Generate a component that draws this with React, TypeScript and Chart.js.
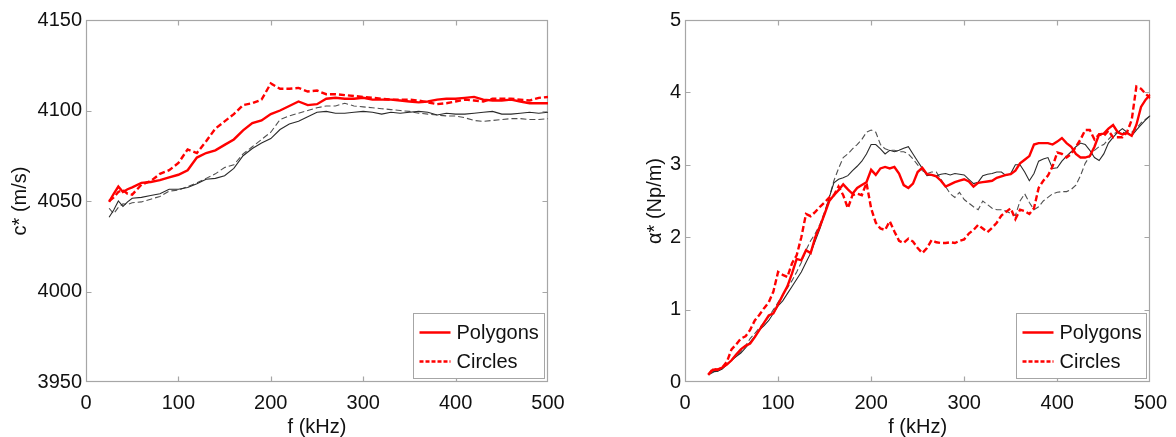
import React, { useEffect, useRef } from 'react';
import { Chart, registerables } from 'chart.js';

Chart.register(...registerables);

const FONT = '"Liberation Sans", Arial, Helvetica, sans-serif';

// ---------- Left panel: c* (m/s) ----------
const freqL = [25, 30, 35, 40, 45, 50, 60, 70, 80, 90, 100, 110, 120, 130, 140, 150, 160, 170, 180, 190, 200,
  210, 220, 230, 240, 250, 260, 270, 280, 290, 300, 310, 320, 330, 340, 350, 360, 370, 380, 390, 400,
  410, 420, 430, 440, 450, 460, 470, 480, 490, 500];

const polygonsC = [4049.5, 4054, 4058, 4055, 4056.5, 4057.5, 4060, 4060.5, 4061.5, 4063, 4064.5, 4067, 4074, 4076.5, 4078,
  4081, 4084, 4089, 4093, 4094.5, 4098, 4100, 4102.5, 4105, 4103, 4103.5, 4106.5, 4107, 4106.5, 4106.5, 4107,
  4106, 4106, 4106, 4105.5, 4105, 4104.5, 4105, 4106, 4106.5, 4106.5, 4107, 4107.5, 4106, 4105.5, 4105.5, 4106,
  4105, 4104, 4104, 4104];

const circlesC = [4050, 4052, 4055, 4056, 4054, 4053.5, 4059, 4061, 4065, 4067, 4071, 4078.5, 4076.5, 4083, 4090,
  4094, 4098, 4103, 4104, 4106, 4115, 4112, 4112, 4112.5, 4110.5, 4111, 4109, 4109, 4108.5, 4108, 4107.5,
  4107, 4106.5, 4106, 4106, 4106, 4105.5, 4104.5, 4103.5, 4104, 4105, 4106, 4105.5, 4105, 4106.5, 4106.5, 4106.5,
  4106, 4105.5, 4107, 4107.5];

const refSolidC = [4041, 4045, 4050, 4047, 4049.5, 4051.5, 4052, 4053, 4054, 4056.5, 4056.5, 4057.5, 4059.5, 4062, 4062.5,
  4064, 4068, 4075, 4079, 4082, 4084.5, 4089.5, 4092.5, 4094, 4096.5, 4099, 4099.5, 4098.5, 4098.5, 4099, 4099.5,
  4099, 4098, 4099, 4098.5, 4099, 4099.5, 4099, 4097.5, 4098.5, 4098, 4098, 4098.5, 4099, 4099.5, 4098, 4098,
  4098.5, 4099, 4098.5, 4099];

const refDashC = [4046, 4043, 4046.5, 4048.5, 4048, 4049, 4049.5, 4051, 4052.5, 4055.5, 4056, 4058, 4060, 4062.5, 4065,
  4068.5, 4070, 4076, 4080, 4084, 4088, 4095, 4097, 4098.5, 4100, 4101.5, 4102.5, 4102.5, 4104, 4102.5, 4102,
  4101.5, 4101, 4100.5, 4100, 4099.5, 4098.5, 4098, 4097.5, 4097, 4097, 4096, 4094.5, 4094, 4094.5, 4095, 4095.5,
  4095.5, 4095, 4095, 4095.5];

// ---------- Right panel: alpha* (Np/m) ----------
const freqR = [25, 30, 35, 40, 45, 50, 55, 60, 65, 70, 75, 80, 85, 90, 95, 100, 105, 110, 115, 120, 125, 130, 135, 140,
  145, 150, 155, 160, 165, 170, 175, 180, 185, 190, 195, 200, 205, 210, 215, 220, 225, 230, 235, 240, 245, 250,
  255, 260, 265, 270, 275, 280, 285, 290, 295, 300, 305, 310, 315, 320, 325, 330, 335, 340, 345, 350, 355, 360,
  365, 370, 375, 380, 385, 390, 395, 400, 405, 410, 415, 420, 425, 430, 435, 440, 445, 450, 455, 460, 465, 470,
  475, 480, 485, 490, 495, 500];

const polygonsA = [0.10, 0.17, 0.17, 0.20, 0.24, 0.30, 0.38, 0.45, 0.50, 0.53, 0.62, 0.72, 0.82, 0.92, 0.95, 1.07,
  1.20, 1.32, 1.50, 1.70, 1.68, 1.82, 1.78, 2.00, 2.15, 2.32, 2.50, 2.58, 2.65, 2.73, 2.66, 2.60, 2.68, 2.72, 2.76,
  2.93, 2.86, 2.95, 2.97, 2.95, 2.97, 2.88, 2.72, 2.68, 2.74, 2.90, 2.96, 2.87, 2.86, 2.84, 2.78, 2.70, 2.73, 2.76,
  2.78, 2.80, 2.77, 2.70, 2.75, 2.76, 2.77, 2.78, 2.82, 2.84, 2.86, 2.87, 2.92, 3.02, 3.07, 3.12, 3.28, 3.30, 3.30,
  3.30, 3.28, 3.32, 3.37, 3.30, 3.25, 3.15, 3.10, 3.10, 3.12, 3.25, 3.42, 3.43, 3.50, 3.55, 3.45, 3.42, 3.44, 3.40,
  3.55, 3.80, 3.90, 3.97];

const circlesA = [0.10, 0.18, 0.17, 0.20, 0.28, 0.45, 0.52, 0.60, 0.63, 0.72, 0.85, 0.93, 1.02, 1.10, 1.25, 1.52,
  1.48, 1.45, 1.64, 1.75, 2.00, 2.32, 2.29, 2.35, 2.42, 2.48, 2.55, 2.58, 2.70, 2.58, 2.40, 2.58, 2.60, 2.58, 2.75,
  2.40, 2.20, 2.12, 2.10, 2.22, 2.08, 1.95, 1.92, 1.98, 1.94, 1.85, 1.78, 1.85, 1.96, 1.93, 1.92, 1.92, 1.93, 1.92,
  1.95, 1.97, 2.05, 2.10, 2.17, 2.12, 2.07, 2.13, 2.20, 2.30, 2.35, 2.40, 2.25, 2.38, 2.36, 2.32, 2.40, 2.68, 2.78,
  2.85, 2.98, 3.17, 3.15, 3.10, 3.15, 3.25, 3.35, 3.48, 3.48, 3.35, 3.42, 3.40, 3.47, 3.38, 3.38, 3.38, 3.45, 3.62,
  4.08, 4.05, 3.98, 3.92];

const refSolidA = [0.10, 0.14, 0.15, 0.18, 0.24, 0.30, 0.35, 0.40, 0.47, 0.55, 0.63, 0.72, 0.78, 0.85, 0.95, 1.05,
  1.12, 1.22, 1.32, 1.42, 1.52, 1.65, 1.78, 1.95, 2.12, 2.32, 2.55, 2.75, 2.80, 2.82, 2.85, 2.92, 2.98, 3.05, 3.15,
  3.28, 3.28, 3.22, 3.15, 3.20, 3.18, 3.20, 3.23, 3.25, 3.15, 3.05, 2.95, 2.85, 2.86, 2.85, 2.87, 2.88, 2.86, 2.88,
  2.87, 2.86, 2.80, 2.74, 2.76, 2.85, 2.87, 2.88, 2.90, 2.90, 2.85, 2.88, 3.00, 3.00, 2.90, 2.78, 2.88, 3.05, 3.08,
  3.10, 2.95, 2.96, 3.05, 3.12, 3.18, 3.25, 3.30, 3.28, 3.20, 3.10, 3.06, 3.15, 3.30, 3.38, 3.45, 3.50, 3.45, 3.40,
  3.48, 3.55, 3.62, 3.68];

const refDashA = [0.10, 0.13, 0.15, 0.19, 0.25, 0.30, 0.36, 0.42, 0.50, 0.60, 0.67, 0.75, 0.82, 0.90, 1.00, 1.10,
  1.20, 1.30, 1.40, 1.52, 1.65, 1.82, 1.95, 2.05, 2.18, 2.35, 2.55, 2.78, 2.95, 3.10, 3.15, 3.22, 3.28, 3.35, 3.45,
  3.48, 3.45, 3.28, 3.22, 3.20, 3.20, 3.18, 3.18, 3.15, 3.08, 3.00, 2.92, 2.88, 2.90, 2.90, 2.80, 2.70, 2.60, 2.55,
  2.62, 2.52, 2.47, 2.42, 2.38, 2.50, 2.45, 2.40, 2.38, 2.38, 2.36, 2.33, 2.30, 2.50, 2.60, 2.48, 2.38, 2.42, 2.50,
  2.55, 2.60, 2.62, 2.63, 2.63, 2.66, 2.72, 2.85, 3.02, 3.12, 3.20, 3.25, 3.28, 3.35, 3.42, 3.46, 3.45, 3.43, 3.45,
  3.50, 3.58, 3.63, 3.68];

const xTicks = [0, 100, 200, 300, 400, 500];
const legendLabels = ['Polygons', 'Circles'];

const RED = '#ff0000';
const FRAME = '#a6a6a6';
const TEXT = '#111111';

const pts = (xs: number[], ys: number[]) => xs.map((x, i) => ({ x, y: ys[i] }));

const framePlugin = {
  id: 'frameTicks',
  beforeDatasetsDraw(chart: any) {
    const { ctx, chartArea: a, scales } = chart;
    const L = Math.round(a.left) + 0.5;
    const R = Math.round(a.right) - 0.5;
    const T = Math.round(a.top) + 0.5;
    const B = Math.round(a.bottom) - 0.5;
    ctx.save();
    ctx.strokeStyle = FRAME;
    ctx.lineWidth = 1.2;
    ctx.setLineDash([]);
    ctx.strokeRect(L, T, R - L, B - T);
    const len = 5;
    ctx.beginPath();
    scales.x.ticks.forEach((t: any) => {
      const px = Math.round(scales.x.getPixelForValue(t.value)) + 0.5;
      if (px <= L + 1 || px >= R - 1) return;
      ctx.moveTo(px, B); ctx.lineTo(px, B - len);
      ctx.moveTo(px, T); ctx.lineTo(px, T + len);
    });
    scales.y.ticks.forEach((t: any) => {
      const py = Math.round(scales.y.getPixelForValue(t.value)) + 0.5;
      if (py <= T + 1 || py >= B - 1) return;
      ctx.moveTo(L, py); ctx.lineTo(L + len, py);
      ctx.moveTo(R, py); ctx.lineTo(R - len, py);
    });
    ctx.stroke();
    ctx.restore();
  },
};

const legendPlugin = {
  id: 'boxLegend',
  afterDatasetsDraw(chart: any, _args: any, opts: any) {
    const { ctx, chartArea: a } = chart;
    const items = chart.data.datasets.filter((d: any) => legendLabels.includes(d.label));
    const w = opts.width;
    const h = 65;
    const x0 = Math.round(a.right - 4 - w) + 0.5;
    const y0 = Math.round(a.bottom - 4 - h) + 0.5;
    ctx.save();
    ctx.fillStyle = '#ffffff';
    ctx.fillRect(x0, y0, w, h);
    ctx.strokeStyle = FRAME;
    ctx.lineWidth = 1;
    ctx.setLineDash([]);
    ctx.strokeRect(x0, y0, w, h);
    items.forEach((d: any, i: number) => {
      const y = y0 + 19 + i * 29;
      ctx.strokeStyle = d.borderColor;
      ctx.lineWidth = 2.5;
      ctx.setLineDash(d.borderDash && d.borderDash.length ? [4, 2] : []);
      ctx.beginPath();
      ctx.moveTo(x0 + 6, y);
      ctx.lineTo(x0 + 37, y);
      ctx.stroke();
      ctx.setLineDash([]);
      ctx.fillStyle = TEXT;
      ctx.font = `20px ${FONT}`;
      ctx.textBaseline = 'middle';
      ctx.textAlign = 'left';
      ctx.fillText(d.label, x0 + 43, y + 1);
    });
    ctx.restore();
  },
};

type PanelProps = {
  width: number;
  height: number;
  left: number;
  freq: number[];
  polygons: number[];
  circles: number[];
  refSolid: number[];
  refDash: number[];
  yMin: number;
  yMax: number;
  yStep: number;
  yTitle: string;
  yAxisWidth: number;
  rightPad: number;
  yTitlePad: number;
  legendWidth: number;
};

function Panel(p: PanelProps) {
  const ref = useRef<HTMLCanvasElement | null>(null);
  useEffect(() => {
    if (!ref.current) return;
    const chart = new Chart(ref.current, {
      type: 'line',
      data: {
        datasets: [
          { label: legendLabels[0], data: pts(p.freq, p.polygons), borderColor: RED, borderWidth: 2.4, pointRadius: 0, tension: 0 },
          { label: legendLabels[1], data: pts(p.freq, p.circles), borderColor: RED, borderWidth: 2.4, borderDash: [6, 3], pointRadius: 0, tension: 0 },
          { label: 'ref solid', data: pts(p.freq, p.refSolid), borderColor: '#2a2a2a', borderWidth: 1.1, pointRadius: 0, tension: 0 },
          { label: 'ref dashed', data: pts(p.freq, p.refDash), borderColor: '#505050', borderWidth: 1.1, borderDash: [6, 3], pointRadius: 0, tension: 0 },
        ],
      } as any,
      options: {
        animation: false,
        responsive: false,
        maintainAspectRatio: false,
        layout: { padding: { left: 0, right: p.rightPad, top: 20, bottom: 0 } },
        plugins: {
          legend: { display: false },
          tooltip: { enabled: false },
          boxLegend: { width: p.legendWidth },
        } as any,
        scales: {
          x: {
            type: 'linear',
            min: 0,
            max: 500,
            afterBuildTicks: (s: any) => { s.ticks = xTicks.map((v) => ({ value: v })); },
            afterFit: (s: any) => { s.height = 55; },
            grid: { display: false, drawTicks: false },
            border: { display: false },
            ticks: { padding: 9, color: TEXT, font: { family: FONT, size: 20 }, callback: (v: any) => String(v) },
            title: {
              display: true,
              text: 'f (kHz)',
              color: TEXT,
              font: { family: FONT, size: 20, lineHeight: 1 },
              padding: { top: 0, bottom: 0 },
            },
          },
          y: {
            type: 'linear',
            min: p.yMin,
            max: p.yMax,
            afterFit: (s: any) => { s.width = p.yAxisWidth; },
            grid: { display: false, drawTicks: false },
            border: { display: false },
            ticks: { stepSize: p.yStep, padding: 4, color: TEXT, font: { family: FONT, size: 20 }, callback: (v: any) => String(v) },
            title: {
              display: true,
              text: p.yTitle,
              color: TEXT,
              font: { family: FONT, size: 20, lineHeight: 1 },
              padding: { top: p.yTitlePad, bottom: 0 },
            },
          },
        },
      } as any,
      plugins: [framePlugin, legendPlugin],
    });
    return () => chart.destroy();
  }, []);
  return (
    <canvas
      ref={ref}
      width={p.width}
      height={p.height}
      style={{ position: 'absolute', left: p.left, top: 0, width: p.width, height: p.height }}
    />
  );
}

export default function App() {
  return (
    <div style={{ position: 'fixed', left: 0, top: 0, width: 1176, height: 437, background: '#ffffff', overflow: 'hidden' }}>
      <Panel
        width={590}
        height={437}
        left={0}
        freq={freqL}
        polygons={polygonsC}
        circles={circlesC}
        refSolid={refSolidC}
        refDash={refDashC}
        yMin={3950}
        yMax={4150}
        yStep={50}
        yTitle="c* (m/s)"
        yAxisWidth={86}
        rightPad={42}
        yTitlePad={10}
        legendWidth={131}
      />
      <Panel
        width={586}
        height={437}
        left={590}
        freq={freqR}
        polygons={polygonsA}
        circles={circlesA}
        refSolid={refSolidA}
        refDash={refDashA}
        yMin={0}
        yMax={5}
        yStep={1}
        yTitle="α* (Np/m)"
        yAxisWidth={95}
        rightPad={23}
        yTitlePad={55}
        legendWidth={130}
      />
    </div>
  );
}
